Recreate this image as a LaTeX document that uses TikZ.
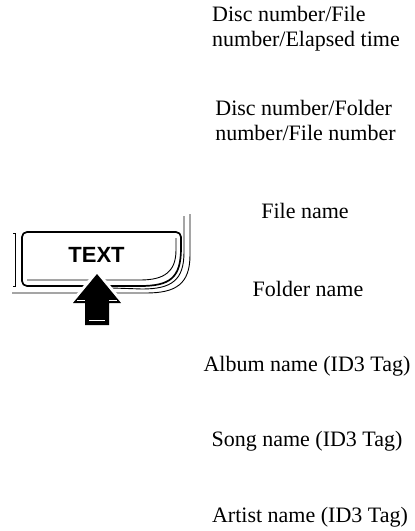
\documentclass[tikz,border=0pt]{standalone}
\usepackage{fontspec}
\setmainfont{Liberation Serif}
\setsansfont{Liberation Sans}
\usetikzlibrary{positioning}

\begin{document}
\begin{tikzpicture}[x=1pt,y=-1pt,every node/.style={font=\fontsize{22}{25}\selectfont,inner sep=0pt},
  item/.style={align=center},
  twoline/.style={align=left},
  thickline/.style={line width=1.7pt,line join=round},
  thinline/.style={line width=0.9pt}]
\useasboundingbox (0,0) rectangle (415,531);
% display items
\node[twoline] (discfile) at (306,29) {Disc number/File\\number/Elapsed time};
\node[twoline] (discfolder) at (305.5,120) {Disc number/Folder\\number/File number};
\node[item] (filename) at (305,211) {File name};
\node[item] (foldername) at (308,289) {Folder name};
\node[item] (album) at (307,366) {Album name (ID3 Tag)};
\node[item] (song) at (307,441) {Song name (ID3 Tag)};
\node[item] (artist) at (310,517) {Artist name (ID3 Tag)};
% button and bezel
\draw[thinline] (13,233) -- (15,233) -- (15,286) -- (13,286);
\draw[thinline] (190,214) -- (190,255) .. controls (190,284) and (176,293) .. (146,293) -- (12,293);
\draw[thinline] (184,216) -- (184,252) .. controls (184,280) and (172,289) .. (142,289) -- (112,288);
\draw[thickline,rounded corners=5pt] (22,260) -- (22,232) -- (181,232) -- (181,248);
\draw[thickline] (181,248) .. controls (181,278) and (170,286) .. (140,286);
\draw[thickline,rounded corners=5pt] (140,286) -- (22,286) -- (22,258);
\draw[thinline] (27,280) -- (140,280) .. controls (164,280) and (176,272) .. (176,250) -- (176,238);
\node[font=\sffamily\bfseries\fontsize{22}{25}\selectfont] (textlabel) at (96.5,255) {TEXT};
% press arrow
\draw[white,line width=6pt,line join=miter] (97,274) -- (121,303) -- (109,303) -- (109,325) -- (85,325) -- (85,303) -- (73,303) -- cycle;
\fill[black] (97,274) -- (121,303) -- (109,303) -- (109,325) -- (85,325) -- (85,303) -- (73,303) -- cycle;
\draw[white,line width=1.6pt] (77,300.5) -- (85,300.5) (109,300.5) -- (117,300.5) (89,320.5) -- (105,320.5);
\end{tikzpicture}
\end{document}
